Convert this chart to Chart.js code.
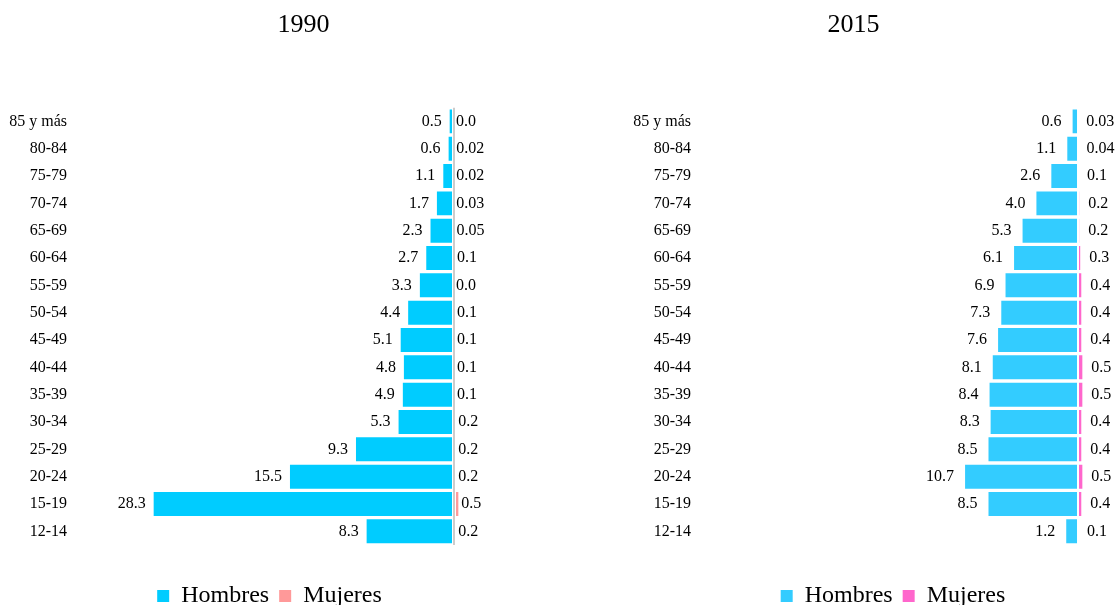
<!DOCTYPE html>
<html>
<head>
<meta charset="utf-8">
<script src="https://cdn.jsdelivr.net/npm/chart.js@4"></script>
<style>
  html, body { margin: 0; padding: 0; background: #fff; overflow: hidden; }
  .box { position: absolute; top: 0; height: 618px; }
  #box1990 { left: 0; width: 607px; }
  #box2015 { left: 590px; width: 527px; }
</style>
</head>
<body>
<div class="box" id="box1990"><canvas id="chart1990"></canvas></div>
<div class="box" id="box2015"><canvas id="chart2015"></canvas></div>
<script>
const ageGroups = ['85 y más', '80-84', '75-79', '70-74', '65-69', '60-64', '55-59', '50-54',
  '45-49', '40-44', '35-39', '30-34', '25-29', '20-24', '15-19', '12-14'];

const hombres1990 = [0.5, 0.6, 1.1, 1.7, 2.3, 2.7, 3.3, 4.4, 5.1, 4.8, 4.9, 5.3, 9.3, 15.5, 28.3, 8.3];
const mujeres1990 = [0.0, 0.02, 0.02, 0.03, 0.05, 0.1, 0.0, 0.1, 0.1, 0.1, 0.1, 0.2, 0.2, 0.2, 0.5, 0.2];

const hombres2015 = [0.6, 1.1, 2.6, 4.0, 5.3, 6.1, 6.9, 7.3, 7.6, 8.1, 8.4, 8.3, 8.5, 10.7, 8.5, 1.2];
const mujeres2015 = [0.03, 0.04, 0.1, 0.2, 0.2, 0.3, 0.4, 0.4, 0.4, 0.5, 0.5, 0.4, 0.4, 0.5, 0.4, 0.1];

const FONT = "'Liberation Serif', 'Times New Roman', serif";
Chart.defaults.font.family = FONT;
Chart.defaults.color = '#000';

// 0.02 stays 0.02, everything else one decimal
const fmt = v => (v > 0 && v < 0.1) ? v.toFixed(2) : v.toFixed(1);

// value labels: men to the left of the bar end, women to the right
const valueLabels = {
  id: 'valueLabels',
  afterDatasetsDraw(chart, args, opts) {
    const ctx = chart.ctx;
    ctx.save();
    ctx.font = '16px ' + FONT;
    ctx.fillStyle = '#000';
    ctx.textBaseline = 'middle';
    chart.data.datasets.forEach((ds, i) => {
      const meta = chart.getDatasetMeta(i);
      meta.data.forEach((bar, j) => {
        const text = fmt(Math.abs(ds.data[j]));
        if (i === 0) {
          ctx.textAlign = 'right';
          ctx.fillText(text, bar.x - opts.gapLeft, bar.y);
        } else {
          ctx.textAlign = 'left';
          ctx.fillText(text, bar.x + opts.gapRight, bar.y);
        }
      });
    });
    ctx.restore();
  }
};

function makeChart(id, year, men, women, colMen, colWomen, cfg) {
  const ctx = document.getElementById(id).getContext('2d');
  return new Chart(ctx, {
    type: 'bar',
    data: {
      labels: ageGroups,
      datasets: [
        {
          label: 'Hombres',
          data: men.map(v => -v),
          backgroundColor: colMen,
          borderColor: '#fff',
          borderWidth: 1,
          borderSkipped: false
        },
        {
          label: 'Mujeres',
          data: women,
          backgroundColor: colWomen,
          borderColor: '#fff',
          borderWidth: 1,
          borderSkipped: false
        }
      ]
    },
    options: {
      indexAxis: 'y',
      responsive: true,
      maintainAspectRatio: false,
      animation: false,
      events: [],
      layout: { padding: { left: cfg.padLeft, right: cfg.padRight, top: 0, bottom: 0 } },
      datasets: { bar: { barPercentage: 0.95, categoryPercentage: 1 } },
      scales: {
        x: {
          stacked: false,
          min: -35.5,
          max: cfg.max,
          ticks: { display: false, stepSize: 5 },
          border: { display: false },
          grid: {
            drawTicks: false,
            z: 1,
            lineWidth: 2,
            color: c => (c.tick && c.tick.value === 0) ? '#cccccc' : 'rgba(0,0,0,0)'
          },
          afterFit: axis => { axis.height = 29; }
        },
        y: {
          stacked: true,
          ticks: { padding: 9, font: { size: 16 }, color: '#000' },
          grid: { display: false, drawTicks: false },
          border: { display: false },
          afterFit: axis => { axis.width = cfg.axisWidth; }
        }
      },
      plugins: {
        title: {
          display: true,
          text: year,
          fullSize: cfg.titleFull,
          font: { size: 26, weight: 'normal' },
          color: '#000',
          padding: { top: 10, bottom: 66.5 }
        },
        legend: {
          position: 'bottom',
          fullSize: cfg.legendFull,
          labels: {
            boxWidth: 12,
            boxHeight: 12,
            padding: 10,
            font: { size: 24 },
            color: '#000',
            generateLabels: chart => Chart.defaults.plugins.legend.labels.generateLabels(chart)
              .map(item => Object.assign(item, { lineWidth: 0 }))
          }
        },
        tooltip: { enabled: false },
        valueLabels: { gapLeft: cfg.gapLeft, gapRight: cfg.gapRight }
      }
    },
    plugins: [valueLabels]
  });
}

makeChart('chart1990', '1990', hombres1990, mujeres1990, '#00CCFF', '#FF9999',
  { max: 7.23, padLeft: 8, padRight: 76, axisWidth: 68, titleFull: false, legendFull: true,
    gapLeft: 7, gapRight: 2 });
makeChart('chart2015', '2015', hombres2015, mujeres2015, '#33CCFF', '#FF66CC',
  { max: 0.75, padLeft: 31, padRight: 31, axisWidth: 79, titleFull: true, legendFull: false,
    gapLeft: 10, gapRight: 8 });
</script>
</body>
</html>
